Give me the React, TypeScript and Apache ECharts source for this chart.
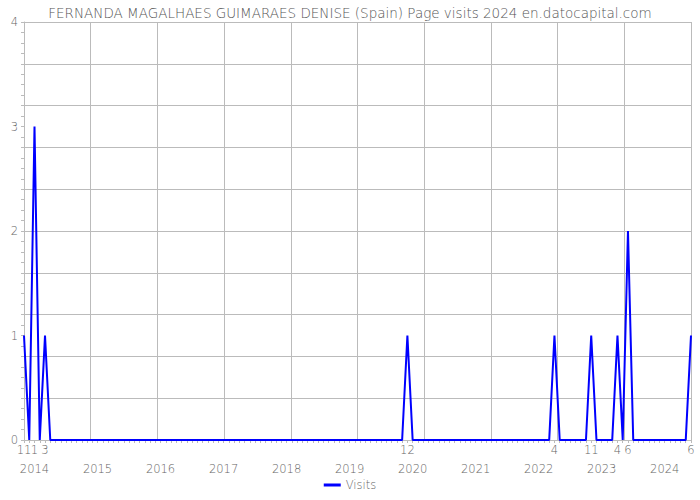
import React, { useEffect, useRef } from "react";
import * as echarts from "echarts";

const TITLE = "FERNANDA MAGALHAES GUIMARAES DENISE (Spain) Page visits 2024 en.datocapital.com";
const SERIES_NAME = "Visits";
const START_YEAR = 2013;
const START_MONTH = 11;

// monthly visits, Nov 2013 .. Jun 2024
const visits2013 = [1, 0];
const visits2014 = [3, 0, 1, 0, 0, 0, 0, 0, 0, 0, 0, 0];
const visits2015 = [0, 0, 0, 0, 0, 0, 0, 0, 0, 0, 0, 0];
const visits2016 = [0, 0, 0, 0, 0, 0, 0, 0, 0, 0, 0, 0];
const visits2017 = [0, 0, 0, 0, 0, 0, 0, 0, 0, 0, 0, 0];
const visits2018 = [0, 0, 0, 0, 0, 0, 0, 0, 0, 0, 0, 0];
const visits2019 = [0, 0, 0, 0, 0, 0, 0, 0, 0, 0, 0, 1];
const visits2020 = [0, 0, 0, 0, 0, 0, 0, 0, 0, 0, 0, 0];
const visits2021 = [0, 0, 0, 0, 0, 0, 0, 0, 0, 0, 0, 0];
const visits2022 = [0, 0, 0, 1, 0, 0, 0, 0, 0, 0, 1, 0];
const visits2023 = [0, 0, 0, 1, 0, 2, 0, 0, 0, 0, 0, 0];
const visits2024 = [0, 0, 0, 0, 0, 1];

const yTicks = [0, 1, 2, 3, 4];

const values = [
  ...visits2013, ...visits2014, ...visits2015, ...visits2016, ...visits2017, ...visits2018,
  ...visits2019, ...visits2020, ...visits2021, ...visits2022, ...visits2023, ...visits2024,
];

const months: string[] = [];
for (let i = 0; i < values.length; i++) {
  const m0 = START_MONTH - 1 + i;
  const y = START_YEAR + Math.floor(m0 / 12);
  const m = (m0 % 12) + 1;
  months.push(`${y}-${m}`);
}

const FONT = "DejaVu Sans";
const TEXT = "#666";

export default function App() {
  const ref = useRef<HTMLDivElement>(null);
  useEffect(() => {
    if (!ref.current) return;
    const chart = echarts.init(ref.current, undefined, { renderer: "svg" });
    chart.setOption({
      animation: false,
      textStyle: { fontFamily: FONT },
      title: {
        text: TITLE,
        left: "center",
        top: 1,
        textStyle: { fontFamily: FONT, fontSize: 13.5, fontWeight: 200, color: "#555" },
      },
      legend: {
        bottom: 4,
        left: "center",
        icon: "rect",
        itemWidth: 17,
        itemHeight: 3,
        itemGap: 4,
        textStyle: { fontFamily: FONT, fontSize: 11.5, fontWeight: 200, color: TEXT },
        data: [SERIES_NAME],
      },
      grid: { left: 24, right: 9, top: 22, bottom: 60 },
      xAxis: [
        {
          type: "category",
          data: months,
          boundaryGap: false,
          position: "bottom",
          axisLine: { show: true, lineStyle: { color: "#bbb" } },
          axisTick: { show: true, interval: 0, length: 3, lineStyle: { color: "#bbb" } },
          axisLabel: {
            interval: 0,
            margin: 4,
            fontSize: 11.5,
            fontWeight: 200,
            color: TEXT,
            fontFamily: FONT,
            formatter: (v: string, idx: number) => (values[idx] > 0 ? String(Number(v.split("-")[1])) : ""),
          },
          splitLine: { show: false },
        },
        {
          type: "category",
          data: months,
          boundaryGap: false,
          position: "bottom",
          offset: 17,
          axisLine: { show: false },
          axisTick: { show: true, interval: 0, length: 2, inside: false, lineStyle: { color: "#bbb" } },
          axisLabel: {
            interval: 0,
            margin: 6,
            fontSize: 11.5,
            fontWeight: 200,
            color: TEXT,
            fontFamily: FONT,
            formatter: (v: string) => {
              const [y, m] = v.split("-");
              return m === "1" ? y : "";
            },
          },
          splitLine: { show: false },
        },
        {
          type: "value",
          min: 0,
          max: 10,
          interval: 1,
          position: "top",
          axisLine: { show: false },
          axisTick: { show: false },
          axisLabel: { show: false },
          splitLine: { show: true, lineStyle: { color: "#bbb", width: 1 } },
        },
      ],
      yAxis: [
        {
          type: "value",
          min: yTicks[0],
          max: yTicks[yTicks.length - 1],
          interval: 1,
          axisLine: { show: true, lineStyle: { color: "#bbb" } },
          axisTick: { show: true, length: 3, lineStyle: { color: "#bbb" } },
          minorTick: { show: true, splitNumber: 10, length: 3, lineStyle: { color: "#bbb" } },
          axisLabel: { fontSize: 11.5, fontWeight: 200, color: TEXT, fontFamily: FONT, margin: 6 },
          splitLine: { show: false },
        },
        {
          type: "value",
          min: 0,
          max: 4,
          interval: 0.4,
          position: "right",
          axisLine: { show: false },
          axisTick: { show: false },
          axisLabel: { show: false },
          splitLine: { show: true, lineStyle: { color: "#bbb", width: 1 } },
        },
      ],
      series: [
        {
          name: SERIES_NAME,
          type: "line",
          xAxisIndex: 0,
          yAxisIndex: 0,
          data: values,
          showSymbol: false,
          symbol: "none",
          lineStyle: { color: "#0000ff", width: 2 },
          itemStyle: { color: "#0000ff" },
          z: 5,
        },
      ],
    });
    return () => chart.dispose();
  }, []);
  return <div ref={ref} style={{ width: 700, height: 500, position: "absolute", left: 0, top: 0 }} />;
}
